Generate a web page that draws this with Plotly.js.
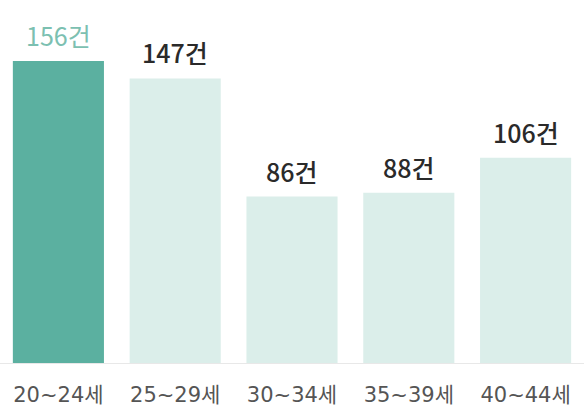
<!DOCTYPE html>
<html><head><meta charset="utf-8">
<script src="https://cdn.plot.ly/plotly-3.0.1.min.js"></script>
<style>html,body{margin:0;padding:0;background:#fff}#chart{width:584px;height:409px}</style>
</head><body><div id="chart"></div>
<script>
const categories = ['20~24세','25~29세','30~34세','35~39세','40~44세'];
const counts = [156, 147, 86, 88, 106];
const labels = ['156건','147건','86건','88건','106건'];
const barColors = ['#5bb0a0','#dbeeea','#dbeeea','#dbeeea','#dbeeea'];
const labelColors = ['#7cc0b1','#2a2a2a','#2a2a2a','#2a2a2a','#2a2a2a'];
const labelWeights = [400, 500, 500, 500, 500];

const labelFont = 'Noto Sans CJK KR, Noto Sans, sans-serif';
const tickFontFamily = 'DejaVu Sans, Noto Sans CJK KR, sans-serif';
const trace = {
  type: 'bar', x: categories, y: counts,
  marker: {color: barColors},
  hoverinfo: 'none'
};
const annotations = categories.map((c,i)=>({
  x: c, y: counts[i], text: labels[i], showarrow: false,
  yanchor: 'bottom', yshift: 6,
  font: {family: labelFont, size: 25, color: labelColors[i], weight: labelWeights[i]}
}));
const layout = {
  width: 584, height: 409,
  margin: {l: 0, r: 0, t: 0, b: 46},
  paper_bgcolor: '#fff', plot_bgcolor: '#fff',
  bargap: 0.22,
  showlegend: false,
  xaxis: {showline: true, linecolor: '#e8e8e8', linewidth: 1, ticks: '', ticklabelstandoff: 13,
          tickfont: {family: tickFontFamily, size: 21, color: '#555'}, fixedrange: true},
  yaxis: {range: [0, 187.5], visible: false, showgrid: false, zeroline: false, fixedrange: true},
  annotations: annotations
};
Plotly.newPlot('chart', [trace], layout, {displayModeBar: false, staticPlot: true});
</script></body></html>
